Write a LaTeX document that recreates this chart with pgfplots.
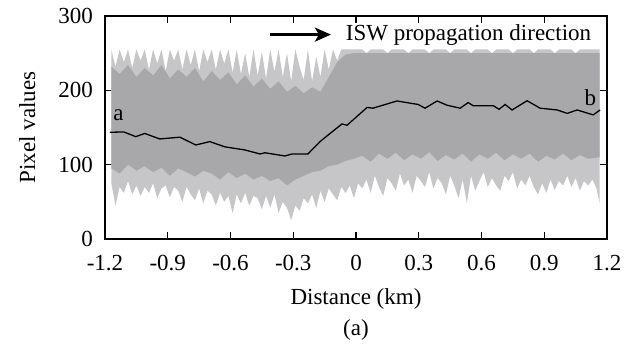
\documentclass[border=0pt]{standalone}
\usepackage{fontspec}
\setmainfont{Liberation Serif}
\usepackage{pgfplots}
\usepackage{pgfplotstable}
\pgfplotsset{compat=1.18}
\usepgfplotslibrary{fillbetween}
\usetikzlibrary{arrows.meta}
\definecolor{coregray}{RGB}{168,168,171}
\definecolor{spikegray}{RGB}{198,198,200}

\pgfplotstableread{
x lo hi
-1.17 75 255
-1.15 45 232
-1.13 70 255
-1.11 62 238
-1.09 78 255
-1.07 60 230
-1.05 72 255
-1.03 58 240
-1.01 70 255
-0.99 62 228
-0.97 75 255
-0.95 55 236
-0.93 68 255
-0.91 72 226
-0.89 56 255
-0.87 70 240
-0.85 65 255
-0.83 50 228
-0.81 70 255
-0.79 60 234
-0.77 52 255
-0.75 68 226
-0.73 48 255
-0.71 65 238
-0.69 60 255
-0.67 45 228
-0.65 62 255
-0.63 50 236
-0.61 58 255
-0.59 35 224
-0.57 60 255
-0.55 48 222
-0.53 62 250
-0.51 45 218
-0.49 58 255
-0.47 55 220
-0.45 40 252
-0.43 58 216
-0.41 42 255
-0.39 60 225
-0.37 35 255
-0.35 50 218
-0.33 42 250
-0.31 25 212
-0.29 45 255
-0.27 38 232
-0.25 55 214
-0.23 48 255
-0.21 60 212
-0.19 42 245
-0.17 65 218
-0.15 50 255
-0.13 68 228
-0.11 60 255
-0.09 52 240
-0.07 70 255
-0.05 62 255
-0.03 72 255
-0.01 55 255
0.01 75 255
0.03 68 255
0.05 80 250
0.07 62 255
0.09 85 255
0.11 70 255
0.13 58 255
0.15 82 250
0.17 75 255
0.19 65 255
0.21 88 255
0.23 72 255
0.25 80 250
0.27 62 255
0.29 85 255
0.31 78 255
0.33 70 255
0.35 90 250
0.37 68 255
0.39 82 255
0.41 75 255
0.43 60 255
0.45 85 250
0.47 72 255
0.49 55 255
0.51 80 255
0.53 48 255
0.55 85 250
0.57 65 255
0.59 78 255
0.61 90 255
0.63 70 255
0.65 82 250
0.67 72 255
0.69 65 255
0.71 85 255
0.73 78 255
0.75 90 250
0.77 68 255
0.79 80 255
0.81 72 255
0.83 85 255
0.85 70 250
0.87 60 255
0.89 75 255
0.91 62 255
0.93 80 255
0.95 66 250
0.97 78 255
0.99 72 255
1.01 85 255
1.03 70 255
1.05 82 250
1.07 65 255
1.09 78 255
1.11 72 255
1.13 80 255
1.15 68 255
1.165 48 255
}\outerenv

\pgfplotstableread{
x lo hi
-1.17 95 232
-1.13 88 222
-1.09 100 234
-1.05 92 218
-1.01 98 230
-0.97 90 220
-0.93 96 234
-0.89 85 216
-0.85 95 228
-0.81 90 218
-0.77 84 230
-0.73 92 212
-0.69 88 226
-0.65 80 214
-0.61 90 224
-0.57 82 208
-0.53 88 220
-0.49 80 205
-0.45 85 216
-0.41 78 202
-0.37 82 212
-0.33 72 198
-0.29 80 206
-0.25 85 196
-0.21 90 204
-0.17 92 198
-0.13 98 218
-0.09 100 238
-0.05 105 248
-0.01 108 250
0.03 112 250
0.07 104 250
0.11 115 250
0.15 108 250
0.19 116 250
0.23 106 250
0.27 114 250
0.31 108 250
0.35 117 250
0.39 105 250
0.43 113 250
0.47 107 250
0.51 115 250
0.55 104 250
0.59 114 250
0.63 108 250
0.67 116 250
0.71 106 250
0.75 114 250
0.79 108 250
0.83 115 250
0.87 104 250
0.91 112 250
0.95 107 250
0.99 115 250
1.03 106 250
1.07 113 250
1.11 108 250
1.165 110 250
}\coreenv

\pgfplotstableread{
x y
-1.177 143.6
-1.110 144.0
-1.053 137.7
-1.010 142.0
-0.938 134.6
-0.842 137.0
-0.766 126.5
-0.699 131.0
-0.627 124.0
-0.531 119.8
-0.459 114.4
-0.435 116.0
-0.340 111.7
-0.306 114.4
-0.230 114.4
-0.172 131.0
-0.139 138.6
-0.067 154.8
-0.043 153.0
0.053 177.0
0.081 176.0
0.196 185.7
0.297 181.0
0.330 176.0
0.388 185.7
0.435 180.0
0.498 176.0
0.536 183.5
0.560 179.4
0.656 179.4
0.684 174.5
0.713 181.0
0.746 173.6
0.818 186.0
0.880 176.0
0.962 173.6
1.010 169.0
1.057 173.6
1.134 167.0
1.167 173.6
}\meanline

\begin{document}
\fontsize{11.5}{13.5}\selectfont
\begin{tikzpicture}
\begin{axis}[
  scale only axis,
  width=251pt, height=111.5pt,
  xmin=-1.2, xmax=1.2, ymin=0, ymax=300,
  xtick={-1.2,-0.9,-0.6,-0.3,0,0.3,0.6,0.9,1.2},
  xticklabels={-1.2,-0.9,-0.6,-0.3,0,0.3,0.6,0.9,1.2},
  ytick={0,100,200,300},
  yticklabels={0,100,200,300},
  tick align=inside,
  xtick pos=both, ytick pos=both,
  major tick length=3.5pt,
  axis line style={line width=0.6pt},
  tick style={line width=0.6pt, black},
  /pgf/number format/assume math mode=true,
  xticklabel style={yshift=-4pt},
  yticklabel style={xshift=-2pt},
  xlabel={Distance (km)},
  ylabel={Pixel values},
  xlabel style={at={(axis description cs:0.5,-0.27)}, anchor=center},
  ylabel style={at={(axis description cs:-0.155,0.5)}, anchor=center},
  clip mode=individual,
]
\addplot[draw=none, name path=olo, forget plot] table[x=x,y=lo]{\outerenv};
\addplot[draw=none, name path=ohi, forget plot] table[x=x,y=hi]{\outerenv};
\addplot[spikegray, forget plot] fill between[of=ohi and olo];
\addplot[draw=none, name path=clo, forget plot] table[x=x,y=lo]{\coreenv};
\addplot[draw=none, name path=chi, forget plot] table[x=x,y=hi]{\coreenv};
\addplot[coregray, forget plot] fill between[of=chi and clo];
\addplot[black, line width=0.65pt] table[x=x,y=y]{\meanline};
\draw[-{Stealth[length=8pt,width=7pt,inset=2pt]}, line width=1.3pt] (axis cs:-0.41,275) -- (axis cs:-0.12,275);
\node[anchor=west, inner sep=0pt] at (axis cs:-0.05,275) {ISW propagation direction};
\node at (axis cs:-1.135,167) {a};
\node at (axis cs:1.12,190) {b};
\node at (axis description cs:0.5,-0.408) {(a)};
\end{axis}
\path ([xshift=-52.5pt,yshift=-52.5pt]current axis.south west) rectangle ([xshift=14pt,yshift=8pt]current axis.north east);
\end{tikzpicture}
\end{document}
